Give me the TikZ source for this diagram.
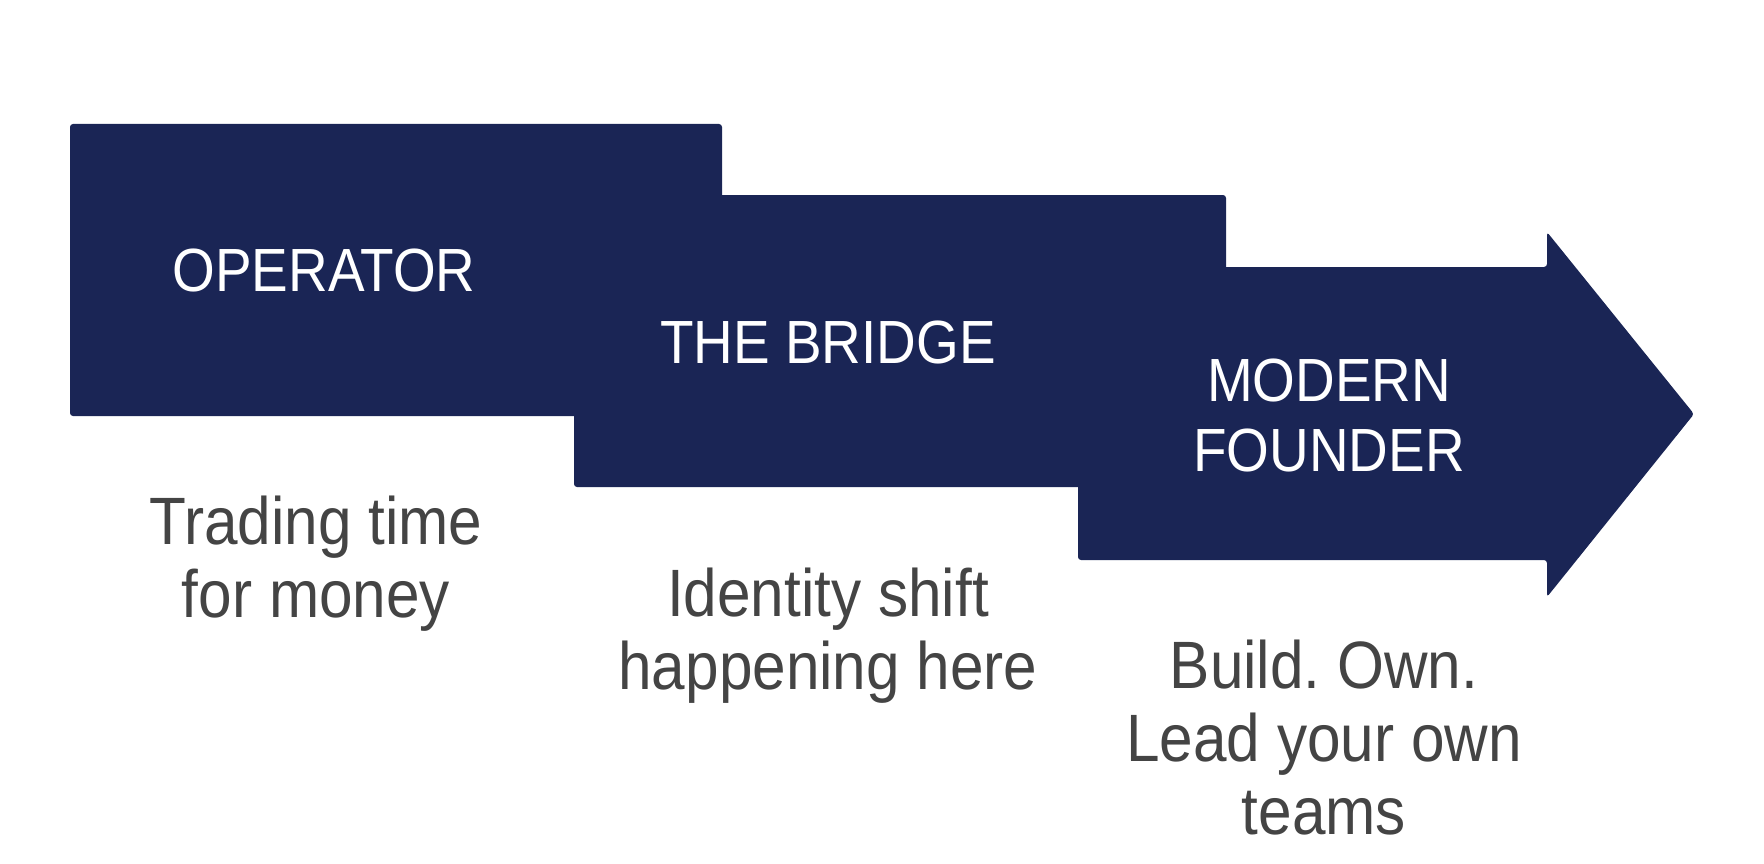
\documentclass[tikz,border=0pt]{standalone}
\usepackage{fontspec}
\setmainfont{Liberation Sans}[FakeStretch=0.9]
\frenchspacing
\definecolor{navy}{HTML}{1A2555}
\definecolor{notegray}{HTML}{444444}
\tikzstyle{stepshape} = [
  fill=navy,
  rounded corners=3pt,
]
\tikzstyle{steptitle} = [
  text=white,
  align=center,
  inner sep=0pt,
  font=\fontsize{61}{70}\selectfont,
]
\tikzstyle{stepnote} = [
  text=notegray,
  align=center,
  inner sep=0pt,
  font=\fontsize{67}{73}\selectfont,
]

\begin{document}
\begin{tikzpicture}[x=1pt, y=-1pt]
      \useasboundingbox (0,0) rectangle (1764,864);
      \def\boxw{652}
      \def\boxh{292}

      \coordinate (A) at (70,124);
      \coordinate (B) at (574,195);
      \coordinate (C) at (1078,267);

      % Steps
      \fill[stepshape] (A) rectangle ++(\boxw,\boxh);
      \fill[stepshape] (B) rectangle ++(\boxw,\boxh);
      \fill[stepshape] (C) -- ++(469,0) -- ++(0,-35) -- (1694,414)
        -- (1547,597) -- ++(0,-37) -- ++(-469,0) -- cycle;

      % Labels
      \node[steptitle] (operator) at (324,270) {OPERATOR};
      \node[steptitle] (bridge) at (828,342) {THE BRIDGE};
      \node[steptitle] (founder) at (1329,415) {MODERN\\FOUNDER};

      % Notes
      \node[stepnote] (operator note) at (316,564) {Trading time\\for money};
      \node[stepnote] (bridge note) at (828,636) {Identity shift\\happening here};
      \node[stepnote] (founder note) at (1324,738) {Build. Own.\\Lead your own\\teams};
    \end{tikzpicture}
\end{document}
